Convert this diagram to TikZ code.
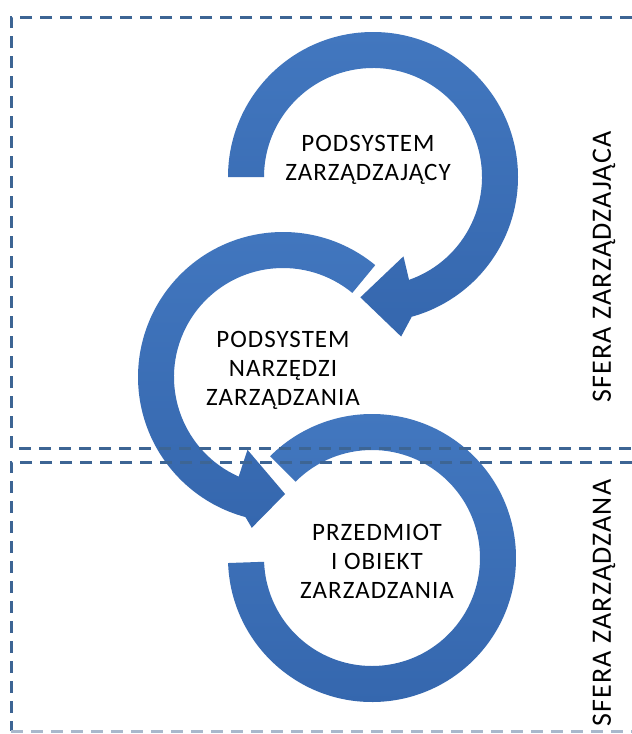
\documentclass[tikz,border=0pt]{standalone}
\usepackage{fontspec}
\setmainfont{Carlito}
\newfontfamily\spacedfont[LetterSpace=4.0]{Carlito}
\newfontfamily\sidefont[LetterSpace=4.0]{Carlito}
\usetikzlibrary{calc}
\definecolor{bluelight}{HTML}{4277BF}
\definecolor{bluedark}{HTML}{3567AE}
\definecolor{dashblue}{HTML}{3D6594}
\definecolor{dashfaint}{HTML}{A9B8CC}
\tikzset{
  ring/.style={top color=bluelight, bottom color=bluedark, draw=none},
  dashline/.style={draw=dashblue, line width=3pt, dash pattern=on 12pt off 8pt},
  lbl/.style={font=\spacedfont\fontsize{25}{29}\selectfont, align=center, inner sep=0pt, text=black},
  sidelbl/.style={font=\sidefont\fontsize{28}{30}\selectfont, inner sep=0pt, text=black, rotate=90}
}
\begin{document}
\begin{tikzpicture}[x=1pt,y=-1pt]
\useasboundingbox (0,0) rectangle (632,734);
\fill[white] (0,0) rectangle (632,734);
\coordinate (c1) at (373,177);
\coordinate (c2) at (283,377);
\coordinate (c3) at (372,558);
% ring 1 (top), clockwise, head at lower left
\path[ring] ($(c1)+(180:145)$) arc[start angle=180, end angle=434.5, radius=145]
  -- ($(c1)+(440:162)$) -- ($(c1)+(456:121)$) -- ($(c1)+(429:85)$)
  -- ($(c1)+(430.7:109)$) arc[start angle=430.7, end angle=180, radius=109] -- cycle;
% ring 2 (middle), counterclockwise, head at bottom
\path[ring] ($(c2)+(-50.5:145)$) arc[start angle=-50.5, end angle=-255, radius=145]
  -- ($(c2)+(-258.3:154)$) -- ($(c2)+(-271:117)$) -- ($(c2)+(-244:81)$)
  -- ($(c2)+(-246:109)$) arc[start angle=-246, end angle=-50.5, radius=109] -- cycle;
% ring 3 (bottom), open ring
\path[ring] ($(c3)+(178:144)$) arc[start angle=178, end angle=-135, radius=144]
  -- ($(c3)+(-135:108)$) arc[start angle=-135, end angle=178, radius=108] -- cycle;
% dashed frames
\draw[dashline] (632,17) -- (11,17) -- (11,448) -- (632,448);
\draw[dashline] (632,462) -- (11,462) -- (11,731);
\draw[dashline, draw=dashfaint] (11,731) -- (632,731);
% labels
\node[lbl] (t1) at (368,160) {PODSYSTEM\\ZARZĄDZAJĄCY};
\node[lbl] (t2) at (283,370) {PODSYSTEM\\NARZĘDZI\\ZARZĄDZANIA};
\node[lbl] (t3) at (377,561) {PRZEDMIOT\\I OBIEKT\\ZARZADZANIA};
\node[sidelbl] (s1) at (604,267) {SFERA ZARZĄDZAJĄCA};
\node[sidelbl] (s2) at (604,603) {SFERA ZARZĄDZANA};
\end{tikzpicture}
\end{document}
